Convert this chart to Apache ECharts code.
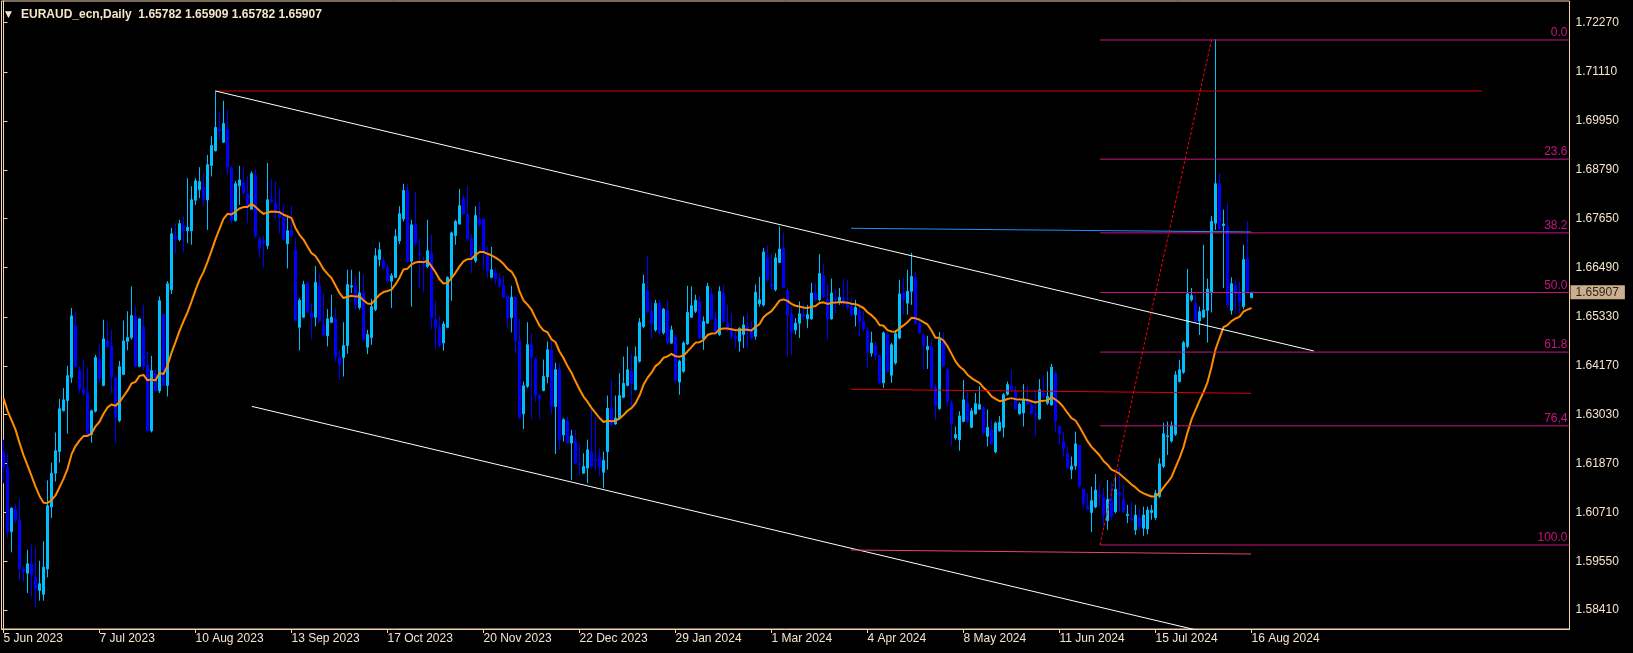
<!DOCTYPE html>
<html><head><meta charset="utf-8">
<script src="https://cdn.jsdelivr.net/npm/echarts@6/dist/echarts.min.js"></script>
<style>html,body{margin:0;padding:0;background:#000;}#c{width:1633px;height:653px;}</style>
</head><body><div id="c"></div>
<script>
// ---------- data ----------
const symbolTitle = 'EURAUD_ecn,Daily';
const lastQuote = [1.65782, 1.65909, 1.65782, 1.65907];
const tickEvery = 24;
const tickLabels = ['5 Jun 2023','7 Jul 2023','10 Aug 2023','13 Sep 2023','17 Oct 2023','20 Nov 2023','22 Dec 2023','29 Jan 2024','1 Mar 2024','4 Apr 2024','8 May 2024','11 Jun 2024','15 Jul 2024','16 Aug 2024'];
const priceTicks = [1.58410,1.59550,1.60710,1.61870,1.63030,1.64170,1.65330,1.66490,1.67650,1.68790,1.69950,1.71110,1.72270];

const open = [
1.6215,1.6178,1.6026,1.6079,1.6052,1.5938,1.5928,1.5950,1.5918,1.5887,
1.5878,1.5938,1.6084,1.6164,1.6215,1.6311,1.6335,1.6390,1.6512,1.6406,
1.6362,1.6353,1.6255,1.6310,1.6433,1.6371,1.6476,1.6465,1.6389,1.6288,
1.6397,1.6475,1.6484,1.6535,1.6416,1.6509,1.6418,1.6264,1.6399,1.6358,
1.6538,1.6371,1.6597,1.6724,1.6715,1.6749,1.6736,1.6736,1.6808,1.6833,
1.6839,1.6809,1.6890,1.6925,1.6976,1.6945,1.6976,1.6884,1.6760,1.6842,
1.6849,1.6823,1.6787,1.6867,1.6716,1.6712,1.6701,1.6809,1.6801,1.6778,
1.6768,1.6705,1.6736,1.6691,1.6508,1.6532,1.6611,1.6542,1.6532,1.6606,
1.6514,1.6488,1.6520,1.6528,1.6437,1.6437,1.6465,1.6603,1.6606,1.6555,
1.6589,1.6461,1.6484,1.6550,1.6668,1.6665,1.6650,1.6617,1.6626,1.6712,
1.6764,1.6831,1.6664,1.6750,1.6682,1.6657,1.6652,1.6683,1.6527,1.6508,
1.6471,1.6508,1.6626,1.6725,1.6752,1.6812,1.6774,1.6717,1.6665,1.6764,
1.6764,1.6677,1.6626,1.6636,1.6622,1.6606,1.6581,1.6531,1.6579,1.6476,
1.6304,1.6369,1.6467,1.6432,1.6347,1.6359,1.6391,1.6455,1.6321,1.6408,
1.6254,1.6286,1.6235,1.6240,1.6186,1.6164,1.6176,1.6214,1.6196,1.6202,
1.6166,1.6215,1.6317,1.6280,1.6294,1.6343,1.6371,1.6404,1.6361,1.6428,
1.6510,1.6595,1.6546,1.6502,1.6565,1.6495,1.6547,1.6471,1.6485,1.6379,
1.6404,1.6469,1.6532,1.6546,1.6569,1.6481,1.6518,1.6587,1.6528,1.6491,
1.6589,1.6518,1.6502,1.6487,1.6475,1.6491,1.6510,1.6498,1.6487,1.6564,
1.6561,1.6672,1.6610,1.6597,1.6661,1.6695,1.6594,1.6538,1.6502,1.6518,
1.6538,1.6528,1.6528,1.6589,1.6573,1.6630,1.6573,1.6528,1.6576,1.6571,
1.6577,1.6565,1.6557,1.6538,1.6546,1.6522,1.6500,1.6447,1.6465,1.6442,
1.6377,1.6491,1.6395,1.6424,1.6483,1.6590,1.6565,1.6593,1.6625,1.6518,
1.6488,1.6455,1.6462,1.6367,1.6316,1.6475,1.6408,1.6329,1.6247,1.6243,
1.6286,1.6329,1.6272,1.6304,1.6315,1.6318,1.6251,1.6266,1.6214,1.6264,
1.6272,1.6350,1.6370,1.6357,1.6304,1.6306,1.6337,1.6325,1.6304,1.6292,
1.6353,1.6329,1.6325,1.6400,1.6274,1.6239,1.6210,1.6172,1.6181,1.6229,
1.6126,1.6087,1.6071,1.6084,1.6113,1.6107,1.6052,1.6101,1.6073,1.6118,
1.6102,1.6064,1.6058,1.6030,1.6058,1.6034,1.6032,1.6071,1.6059,1.6109,
1.6180,1.6250,1.6240,1.6256,1.6380,1.6402,1.6463,1.6573,1.6564,1.6523,
1.6532,1.6548,1.6589,1.6754,1.6847,1.6748,1.6745,1.6548,1.6607,1.6587,
1.6557,1.6670,1.65782];
const high = [
1.6243,1.6210,1.6083,1.6092,1.6103,1.5944,1.5983,1.5997,1.5989,1.5957,
1.6003,1.6147,1.6189,1.6260,1.6339,1.6365,1.6417,1.6554,1.6546,1.6416,
1.6433,1.6414,1.6314,1.6443,1.6467,1.6526,1.6521,1.6502,1.6392,1.6429,
1.6524,1.6546,1.6605,1.6558,1.6530,1.6561,1.6451,1.6441,1.6408,1.6581,
1.6541,1.6617,1.6743,1.6754,1.6762,1.6770,1.6860,1.6841,1.6860,1.6886,
1.6872,1.6915,1.6959,1.7067,1.7018,1.7043,1.7022,1.6889,1.6853,1.6889,
1.6889,1.6864,1.6876,1.6881,1.6723,1.6723,1.6896,1.6858,1.6853,1.6837,
1.6797,1.6770,1.6795,1.6719,1.6577,1.6618,1.6616,1.6565,1.6653,1.6636,
1.6589,1.6551,1.6585,1.6553,1.6454,1.6520,1.6644,1.6644,1.6628,1.6640,
1.6632,1.6502,1.6575,1.6695,1.6709,1.6674,1.6656,1.6636,1.6740,1.6794,
1.6847,1.6847,1.6762,1.6827,1.6717,1.6675,1.6762,1.6727,1.6571,1.6534,
1.6522,1.6628,1.6734,1.6762,1.6835,1.6821,1.6842,1.6727,1.6794,1.6804,
1.6766,1.6698,1.6698,1.6648,1.6636,1.6630,1.6585,1.6606,1.6581,1.6528,
1.6380,1.6520,1.6494,1.6437,1.6351,1.6432,1.6475,1.6475,1.6424,1.6424,
1.6294,1.6298,1.6266,1.6266,1.6235,1.6211,1.6243,1.6314,1.6298,1.6223,
1.6215,1.6347,1.6384,1.6347,1.6400,1.6439,1.6463,1.6447,1.6463,1.6530,
1.6632,1.6676,1.6573,1.6573,1.6573,1.6554,1.6573,1.6512,1.6491,1.6432,
1.6475,1.6606,1.6605,1.6585,1.6581,1.6534,1.6613,1.6601,1.6546,1.6605,
1.6609,1.6561,1.6542,1.6498,1.6508,1.6534,1.6542,1.6522,1.6609,1.6627,
1.6695,1.6701,1.6683,1.6683,1.6746,1.6731,1.6601,1.6557,1.6530,1.6569,
1.6565,1.6561,1.6613,1.6613,1.6681,1.6658,1.6609,1.6623,1.6597,1.6601,
1.6623,1.6620,1.6577,1.6573,1.6561,1.6546,1.6508,1.6498,1.6475,1.6445,
1.6498,1.6497,1.6471,1.6502,1.6620,1.6625,1.6644,1.6684,1.6640,1.6526,
1.6495,1.6488,1.6479,1.6373,1.6497,1.6495,1.6412,1.6337,1.6274,1.6310,
1.6384,1.6357,1.6318,1.6353,1.6369,1.6322,1.6314,1.6290,1.6286,1.6299,
1.6353,1.6380,1.6408,1.6369,1.6331,1.6374,1.6369,1.6337,1.6361,1.6386,
1.6394,1.6404,1.6422,1.6405,1.6276,1.6261,1.6227,1.6203,1.6262,1.6231,
1.6129,1.6117,1.6132,1.6162,1.6139,1.6128,1.6148,1.6144,1.6156,1.6177,
1.6136,1.6089,1.6097,1.6089,1.6081,1.6085,1.6085,1.6089,1.6124,1.6199,
1.6283,1.6286,1.6286,1.6405,1.6431,1.6476,1.6646,1.6601,1.6585,1.6557,
1.6703,1.6623,1.6771,1.7188,1.6872,1.6786,1.6801,1.6626,1.6622,1.6616,
1.6703,1.6758,1.65909];
const low = [
1.6140,1.6011,1.5977,1.6046,1.5912,1.5908,1.5881,1.5873,1.5848,1.5863,
1.5863,1.5918,1.6058,1.6144,1.6189,1.6310,1.6257,1.6377,1.6412,1.6353,
1.6345,1.6251,1.6236,1.6307,1.6377,1.6369,1.6459,1.6353,1.6234,1.6284,
1.6395,1.6454,1.6479,1.6414,1.6414,1.6408,1.6262,1.6260,1.6357,1.6353,
1.6369,1.6345,1.6587,1.6683,1.6711,1.6685,1.6707,1.6703,1.6797,1.6813,
1.6795,1.6738,1.6864,1.6923,1.6951,1.6943,1.6868,1.6754,1.6758,1.6797,
1.6821,1.6754,1.6786,1.6721,1.6672,1.6649,1.6693,1.6801,1.6762,1.6730,
1.6715,1.6647,1.6719,1.6522,1.6454,1.6530,1.6542,1.6479,1.6510,1.6520,
1.6487,1.6463,1.6518,1.6428,1.6384,1.6392,1.6446,1.6589,1.6550,1.6550,
1.6475,1.6445,1.6467,1.6546,1.6652,1.6644,1.6613,1.6554,1.6624,1.6705,
1.6758,1.6660,1.6557,1.6699,1.6601,1.6590,1.6648,1.6504,1.6457,1.6459,
1.6453,1.6506,1.6571,1.6703,1.6750,1.6774,1.6711,1.6636,1.6660,1.6746,
1.6644,1.6624,1.6624,1.6609,1.6601,1.6577,1.6508,1.6496,1.6447,1.6291,
1.6268,1.6365,1.6291,1.6333,1.6291,1.6357,1.6376,1.6303,1.6209,1.6219,
1.6239,1.6233,1.6148,1.6184,1.6160,1.6162,1.6140,1.6176,1.6172,1.6156,
1.6129,1.6172,1.6274,1.6278,1.6290,1.6341,1.6369,1.6321,1.6359,1.6425,
1.6506,1.6542,1.6481,1.6498,1.6491,1.6491,1.6469,1.6469,1.6376,1.6349,
1.6401,1.6467,1.6530,1.6542,1.6480,1.6455,1.6517,1.6526,1.6496,1.6488,
1.6518,1.6498,1.6479,1.6459,1.6451,1.6459,1.6459,1.6479,1.6479,1.6557,
1.6557,1.6616,1.6597,1.6593,1.6660,1.6601,1.6439,1.6443,1.6491,1.6483,
1.6526,1.6506,1.6526,1.6569,1.6569,1.6577,1.6479,1.6526,1.6542,1.6561,
1.6557,1.6550,1.6534,1.6510,1.6487,1.6498,1.6412,1.6439,1.6431,1.6373,
1.6365,1.6400,1.6377,1.6420,1.6480,1.6538,1.6538,1.6561,1.6514,1.6491,
1.6408,1.6410,1.6361,1.6290,1.6314,1.6416,1.6321,1.6229,1.6243,1.6217,
1.6284,1.6282,1.6270,1.6302,1.6314,1.6255,1.6227,1.6231,1.6211,1.6262,
1.6248,1.6347,1.6357,1.6314,1.6302,1.6274,1.6325,1.6302,1.6251,1.6290,
1.6341,1.6325,1.6323,1.6262,1.6231,1.6203,1.6172,1.6150,1.6172,1.6129,
1.6079,1.6077,1.6025,1.6081,1.6085,1.6038,1.6030,1.6054,1.6069,1.6073,
1.6069,1.6046,1.6050,1.6018,1.6030,1.6016,1.6020,1.6054,1.6054,1.6105,
1.6176,1.6207,1.6236,1.6252,1.6378,1.6398,1.6459,1.6569,1.6518,1.6490,
1.6530,1.6472,1.6543,1.6738,1.6737,1.6601,1.6556,1.6538,1.6542,1.6542,
1.6551,1.6589,1.65782];
const close = [
1.6178,1.6026,1.6081,1.6054,1.5938,1.5932,1.5950,1.5924,1.5890,1.5903,
1.5942,1.6087,1.6164,1.6217,1.6316,1.6337,1.6394,1.6535,1.6416,1.6363,
1.6353,1.6255,1.6311,1.6437,1.6388,1.6481,1.6463,1.6390,1.6295,1.6415,
1.6476,1.6484,1.6536,1.6416,1.6528,1.6416,1.6264,1.6406,1.6358,1.6571,
1.6371,1.6611,1.6729,1.6716,1.6753,1.6736,1.6744,1.6809,1.6854,1.6852,
1.6809,1.6892,1.6937,1.6980,1.6971,1.6989,1.6886,1.6760,1.6847,1.6856,
1.6825,1.6795,1.6871,1.6723,1.6695,1.6707,1.6809,1.6804,1.6778,1.6768,
1.6716,1.6736,1.6724,1.6524,1.6572,1.6609,1.6544,1.6532,1.6614,1.6522,
1.6490,1.6528,1.6532,1.6439,1.6420,1.6465,1.6609,1.6606,1.6561,1.6589,
1.6480,1.6491,1.6557,1.6677,1.6691,1.6648,1.6617,1.6630,1.6723,1.6776,
1.6831,1.6664,1.6750,1.6707,1.6680,1.6652,1.6689,1.6531,1.6508,1.6465,
1.6516,1.6626,1.6731,1.6758,1.6795,1.6776,1.6717,1.6673,1.6772,1.6750,
1.6686,1.6642,1.6644,1.6622,1.6606,1.6579,1.6531,1.6579,1.6476,1.6296,
1.6370,1.6467,1.6437,1.6347,1.6339,1.6392,1.6455,1.6321,1.6408,1.6243,
1.6290,1.6236,1.6252,1.6188,1.6184,1.6180,1.6219,1.6180,1.6194,1.6178,
1.6194,1.6317,1.6278,1.6294,1.6347,1.6376,1.6408,1.6376,1.6439,1.6520,
1.6611,1.6546,1.6517,1.6565,1.6495,1.6551,1.6471,1.6502,1.6384,1.6428,
1.6471,1.6543,1.6559,1.6572,1.6483,1.6522,1.6605,1.6528,1.6498,1.6593,
1.6522,1.6508,1.6487,1.6480,1.6506,1.6514,1.6498,1.6483,1.6591,1.6573,
1.6686,1.6620,1.6605,1.6672,1.6693,1.6602,1.6536,1.6496,1.6518,1.6540,
1.6534,1.6538,1.6589,1.6573,1.6635,1.6581,1.6528,1.6589,1.6572,1.6579,
1.6565,1.6556,1.6538,1.6555,1.6522,1.6505,1.6449,1.6471,1.6442,1.6378,
1.6495,1.6404,1.6467,1.6493,1.6587,1.6573,1.6593,1.6628,1.6518,1.6495,
1.6465,1.6463,1.6365,1.6323,1.6481,1.6417,1.6333,1.6281,1.6255,1.6299,
1.6337,1.6286,1.6311,1.6328,1.6326,1.6259,1.6272,1.6233,1.6282,1.6284,
1.6349,1.6373,1.6361,1.6316,1.6327,1.6337,1.6328,1.6304,1.6302,1.6361,
1.6347,1.6345,1.6414,1.6286,1.6257,1.6221,1.6177,1.6180,1.6233,1.6133,
1.6093,1.6079,1.6099,1.6124,1.6109,1.6065,1.6102,1.6062,1.6126,1.6113,
1.6073,1.6067,1.6054,1.6065,1.6038,1.6065,1.6077,1.6076,1.6117,1.6186,
1.6257,1.6252,1.6276,1.6396,1.6408,1.6472,1.6587,1.6583,1.6522,1.6545,
1.6549,1.6598,1.6758,1.6847,1.6740,1.6752,1.6561,1.6611,1.6589,1.6567,
1.6668,1.6590,1.65907];

// moving average (EMA) settings; first value
const maPeriod = 20;
const maSeed = 1.6341;

// drawn objects: [barIndex, price]
const topResistance = [[53, 1.70658], [369.6, 1.70658]];
const channelUpper  = [[53, 1.70658], [327.6, 1.64522]];
const channelLower  = [[62.1, 1.63215], [336.9, 1.57073]];
const blueLevel     = [[211.9, 1.67418], [311.9, 1.67331]];
const redLevel      = [[211.9, 1.63618], [311.9, 1.63524]];
const pinkLevel     = [[211.9, 1.59826], [311.9, 1.59731]];
const fibHigh = 1.71862, fibLow = 1.59944;
const fibStartBar = 274.1, fibHighBar = 302.0;
const fibLevels = [0, 23.6, 38.2, 50, 61.8, 76.4, 100];
const fibLabels = ['0.0', '23.6', '38.2', '50.0', '61.8', '76,4', '100.0'];

// ---------- chart ----------
const SLOTS = 392;               // bar slots visible in the window (incl. right shift)
const Y_MIN = 1.579615, Y_MAX = 1.727821;
const FONT = 'Liberation Sans, Arial, sans-serif';
const FRAME = '#f2d4b0';
const TXT = '#f6e4cc';

const cats = Array.from({length: SLOTS}, (_, i) => String(i));
const candles = open.map((o, i) => [o, close[i], low[i], high[i]]);
const ma = [];
let e = maSeed;
for (let i = 0; i < close.length; i++) {
  if (i > 0) e = e + (close[i] - e) * 2 / (maPeriod + 1);
  ma.push(+e.toFixed(5));
}
const lastBar = (tickLabels.length - 1) * tickEvery;
const showTick = (i) => i % tickEvery === 0 && i <= lastBar;

function seg(pts, color, type, z) {
  return {type: 'line', xAxisIndex: 1, yAxisIndex: 0, data: pts, symbol: 'none', showSymbol: false,
    lineStyle: {color: color, width: 1, type: type || 'solid'}, silent: true, animation: false, z: z || 4};
}

const series = [
  {type: 'candlestick', xAxisIndex: 0, yAxisIndex: 0, data: candles, barWidth: 2, z: 2,
   itemStyle: {color: '#00bfff', color0: '#0000ff', borderColor: '#00bfff', borderColor0: '#0000ff', borderWidth: 1}},
  {type: 'line', xAxisIndex: 0, yAxisIndex: 0, data: ma, symbol: 'none', showSymbol: false,
   lineStyle: {color: '#ff8c00', width: 2}, z: 3, silent: true},
  seg(topResistance, '#d40000'),
  seg(channelUpper, '#ffffff'),
  seg(channelLower, '#ffffff'),
  seg(blueLevel, '#1e90ff'),
  seg(redLevel, '#e00000'),
  seg(pinkLevel, '#e8407e'),
  seg([[fibStartBar, fibLow], [fibHighBar, fibHigh]], '#ff0000', [3, 2], 5),
  // current price tag on the price scale
  {type: 'scatter', xAxisIndex: 1, yAxisIndex: 0, clip: false, silent: true, z: 10,
   symbolSize: 0, data: [[SLOTS - 0.5, lastQuote[3]]],
   label: {show: true, position: 'right', distance: 1, formatter: lastQuote[3].toFixed(5),
     backgroundColor: '#ffd9b0', color: '#000', fontFamily: FONT, fontSize: 12, lineHeight: 12, padding: [1, 6, 1, 5]}}
];
fibLevels.forEach((lv, k) => {
  const p = fibHigh - lv / 100 * (fibHigh - fibLow);
  const s = seg([[fibStartBar, p], {value: [SLOTS - 0.5, p], symbol: 'circle', symbolSize: 0,
    label: {show: true, position: 'top', align: 'right', distance: 1, offset: [-2, 0],
      formatter: fibLabels[k], color: '#c71585', fontFamily: FONT, fontSize: 12}}], '#c71585');
  s.showSymbol = true; s.symbol = 'none';
  series.push(s);
});

const chart = echarts.init(document.getElementById('c'), null, {renderer: 'canvas', width: 1633, height: 653});
chart.setOption({
  animation: false,
  backgroundColor: '#000',
  title: {
    left: 0, top: 4,
    text: '{t|▼}{s|' + symbolTitle + '  ' + lastQuote.map(v => v.toFixed(5)).join(' ') + '}',
    textStyle: {rich: {
      t: {fontFamily: 'DejaVu Sans', fontSize: 9, color: TXT, width: 16},
      s: {fontFamily: FONT, fontSize: 12, color: TXT}
    }}
  },
  grid: {left: 1.5, top: 1, right: 63.5, bottom: 24, show: true, borderColor: FRAME, borderWidth: 1, backgroundColor: '#000'},
  xAxis: [
    {type: 'category', data: cats, boundaryGap: true,
     axisLine: {show: true, lineStyle: {color: FRAME}},
     axisTick: {show: true, alignWithLabel: true, length: 4, interval: (i) => showTick(i), lineStyle: {color: FRAME}},
     axisLabel: {show: true, interval: (i) => showTick(i), align: 'left', margin: 4,
       formatter: (v) => tickLabels[Number(v) / tickEvery] || '',
       color: TXT, fontFamily: FONT, fontSize: 12},
     splitLine: {show: false}},
    {type: 'value', min: -0.5, max: SLOTS - 0.5, show: false}
  ],
  yAxis: {type: 'value', position: 'right', min: Y_MIN, max: Y_MAX,
    axisLine: {show: true, lineStyle: {color: FRAME}},
    axisTick: {show: true, length: 4, customValues: priceTicks, lineStyle: {color: FRAME}},
    axisLabel: {show: true, customValues: priceTicks, formatter: (v) => v.toFixed(5), margin: 6,
      color: TXT, fontFamily: FONT, fontSize: 12},
    splitLine: {show: false}},
  series: series
});
</script>
</body></html>
